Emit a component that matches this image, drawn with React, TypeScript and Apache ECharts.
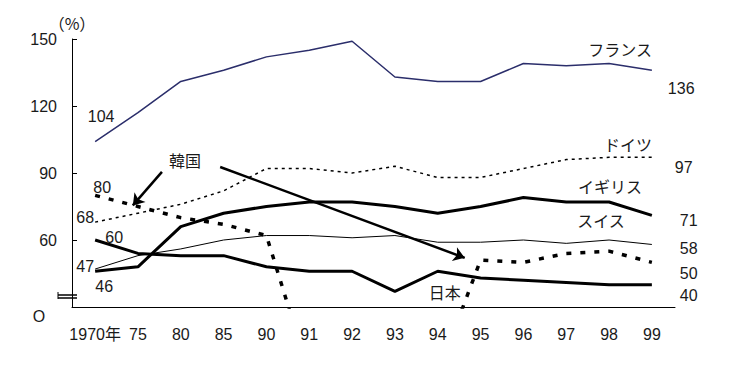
import React, { useEffect, useRef } from "react";
import * as echarts from "echarts";

const years = ["1970年", "75", "80", "85", "90", "91", "92", "93", "94", "95", "96", "97", "98", "99"];
const yTicks = [30, 60, 90, 120, 150];
const france = [104, 117, 131, 136, 142, 145, 149, 133, 131, 131, 139, 138, 139, 136];
const germany = [68, 72, 76, 82, 92, 92, 90, 93, 88, 88, 92, 96, 97, 97];
const uk = [46, 48, 66, 72, 75, 77, 77, 75, 72, 75, 79, 77, 77, 71];
const swiss = [47, 53, 56, 60, 62, 62, 61, 62, 59, 59, 60, 58.5, 60, 58];
const japan = [60, 54, 53, 53, 48, 46, 46, 37, 46, 43, 42, 41, 40, 40];
const korea = [80, 75, 70, 67, 62, 0, 0, 0, 0, 51, 50, 54, 55, 50];

const FONT = "'Liberation Sans', 'Noto Sans CJK JP', sans-serif";
const CJK = "'Noto Sans CJK JP', sans-serif";
const TXT = "#1a1a1a";

const pairs = (arr: number[]) => arr.map((v, i) => [i, v]);

export default function App() {
  const ref = useRef<HTMLDivElement>(null);
  useEffect(() => {
    document.body.style.margin = "0";
    const chart = echarts.init(ref.current!, null, { renderer: "svg" });
    const option: any = {
      animation: false,
      grid: { left: 72, right: 65, top: 39, bottom: 61 },
      xAxis: {
        type: "value",
        min: -0.54,
        max: 13.54,
        splitLine: { show: false },
        axisLine: { onZero: false, lineStyle: { color: "#000", width: 1 } },
        axisTick: { show: false },
        axisLabel: {
          customValues: years.map((_, i) => i),
          formatter: (v: number) => years[Math.round(v)] ?? "",
          color: TXT,
          fontSize: 16,
          fontFamily: FONT,
          margin: 19,
        },
      },
      yAxis: {
        type: "value",
        min: yTicks[0],
        max: yTicks[yTicks.length - 1],
        interval: 30,
        name: "（%）",
        nameGap: 8,
        nameTextStyle: { color: TXT, fontSize: 16, fontFamily: CJK, padding: [0, 0, 0, 0] },
        splitLine: { show: false },
        axisLine: { show: true, onZero: false, lineStyle: { color: "#000", width: 1 } },
        axisTick: { show: true, inside: true, length: 5, lineStyle: { color: "#000" } },
        axisLabel: {
          formatter: (v: number) => (v === yTicks[0] ? "" : String(v)),
          color: TXT,
          fontSize: 16,
          fontFamily: FONT,
          margin: 15,
        },
      },
      series: [
        {
          name: "フランス",
          type: "line",
          data: pairs(france),
          symbol: "none",
          lineStyle: { color: "#2b2e6b", width: 1.5 },
        },
        {
          name: "ドイツ",
          type: "line",
          data: pairs(germany),
          symbol: "none",
          lineStyle: { color: "#000", width: 1.5, type: [3, 4] },
        },
        {
          name: "イギリス",
          type: "line",
          data: pairs(uk),
          symbol: "none",
          lineStyle: { color: "#000", width: 3 },
        },
        {
          name: "スイス",
          type: "line",
          data: pairs(swiss),
          symbol: "none",
          lineStyle: { color: "#000", width: 1 },
        },
        {
          name: "日本",
          type: "line",
          data: pairs(japan),
          symbol: "none",
          lineStyle: { color: "#000", width: 3 },
        },
        {
          name: "韓国",
          type: "line",
          data: pairs(korea),
          symbol: "none",
          lineStyle: { color: "#000", width: 3.5, type: [5, 9] },
          markLine: {
            silent: true,
            symbol: ["none", "arrow"],
            symbolSize: 11,
            label: { show: false },
            lineStyle: { type: "solid", color: "#000", width: 2.5 },
            emphasis: { disabled: true },
            data: [
              [{ coord: [1.56, 90.5] }, { coord: [0.88, 75.5] }],
              [{ coord: [2.92, 92.7] }, { coord: [8.63, 52] }],
            ],
          },
        },
      ],
    };
    chart.setOption(option);

    const px = (i: number, v: number) => chart.convertToPixel({ gridIndex: 0 }, [i, v]) as number[];
    const last = years.length - 1;
    const notes: { t: string; i: number; v: number; dx: number; dy: number; a: string }[] = [
      { t: "104", i: 0, v: france[0], dx: 6, dy: -25, a: "center" },
      { t: "80", i: 0, v: korea[0], dx: 7, dy: -8, a: "center" },
      { t: "68", i: 0, v: germany[0], dx: -10, dy: -5, a: "center" },
      { t: "60", i: 0, v: japan[0], dx: 19, dy: -3, a: "center" },
      { t: "47", i: 0, v: swiss[0], dx: -10, dy: -3, a: "center" },
      { t: "46", i: 0, v: uk[0], dx: 9, dy: 15, a: "center" },
      { t: "136", i: last, v: france[last], dx: 16, dy: 18, a: "left" },
      { t: "97", i: last, v: germany[last], dx: 23, dy: 10, a: "left" },
      { t: "71", i: last, v: uk[last], dx: 28, dy: 5, a: "left" },
      { t: "58", i: last, v: swiss[last], dx: 28, dy: 4, a: "left" },
      { t: "50", i: last, v: korea[last], dx: 28, dy: 11, a: "left" },
      { t: "40", i: last, v: japan[last], dx: 28, dy: 11, a: "left" },
      { t: "フランス", i: 12, v: france[12], dx: 11, dy: -13, a: "center" },
      { t: "ドイツ", i: 12, v: germany[12], dx: 19, dy: -12, a: "center" },
      { t: "イギリス", i: 12, v: uk[12], dx: 1, dy: -15, a: "center" },
      { t: "スイス", i: 12, v: swiss[12], dx: -8, dy: -19, a: "center" },
      { t: "日本", i: 8, v: japan[8], dx: 7, dy: 22, a: "center" },
      { t: "韓国", i: 1, v: korea[1], dx: 47, dy: -45, a: "center" },
    ];
    const graphic: any[] = notes.map((n) => {
      const [x, y] = px(n.i, n.v);
      return {
        type: "text",
        x: x + n.dx,
        y: y + n.dy,
        silent: true,
        style: {
          text: n.t,
          font: `16px ${FONT}`,
          fill: TXT,
          align: n.a,
          verticalAlign: "middle",
          textAlign: n.a,
          textVerticalAlign: "middle",
        },
      };
    });
    const [ax, ay] = px(-0.54, yTicks[0]);
    graphic.push({
      type: "text",
      x: ax - 33,
      y: ay + 9,
      silent: true,
      style: {
        text: "O",
        font: `16px ${FONT}`,
        fill: TXT,
        align: "center",
        verticalAlign: "middle",
        textAlign: "center",
        textVerticalAlign: "middle",
      },
    });
    const br = (x1: number, y1: number, x2: number, y2: number, w = 1.5) => ({
      type: "line",
      silent: true,
      shape: { x1, y1, x2, y2 },
      style: { stroke: "#000", lineWidth: w },
    });
    graphic.push({
      type: "rect",
      silent: true,
      shape: { x: ax - 14, y: ay - 13, width: 20, height: 5 },
      style: { fill: "#fff" },
    });
    graphic.push(br(ax - 14, ay - 12, ax + 5, ay - 12));
    graphic.push(br(ax - 14, ay - 9, ax + 5, ay - 9));
    graphic.push(br(ax - 14, ay - 15, ax - 14, ay - 8, 1));
    chart.setOption({ graphic });

    return () => chart.dispose();
  }, []);
  return <div ref={ref} style={{ width: 740, height: 368 }} />;
}
